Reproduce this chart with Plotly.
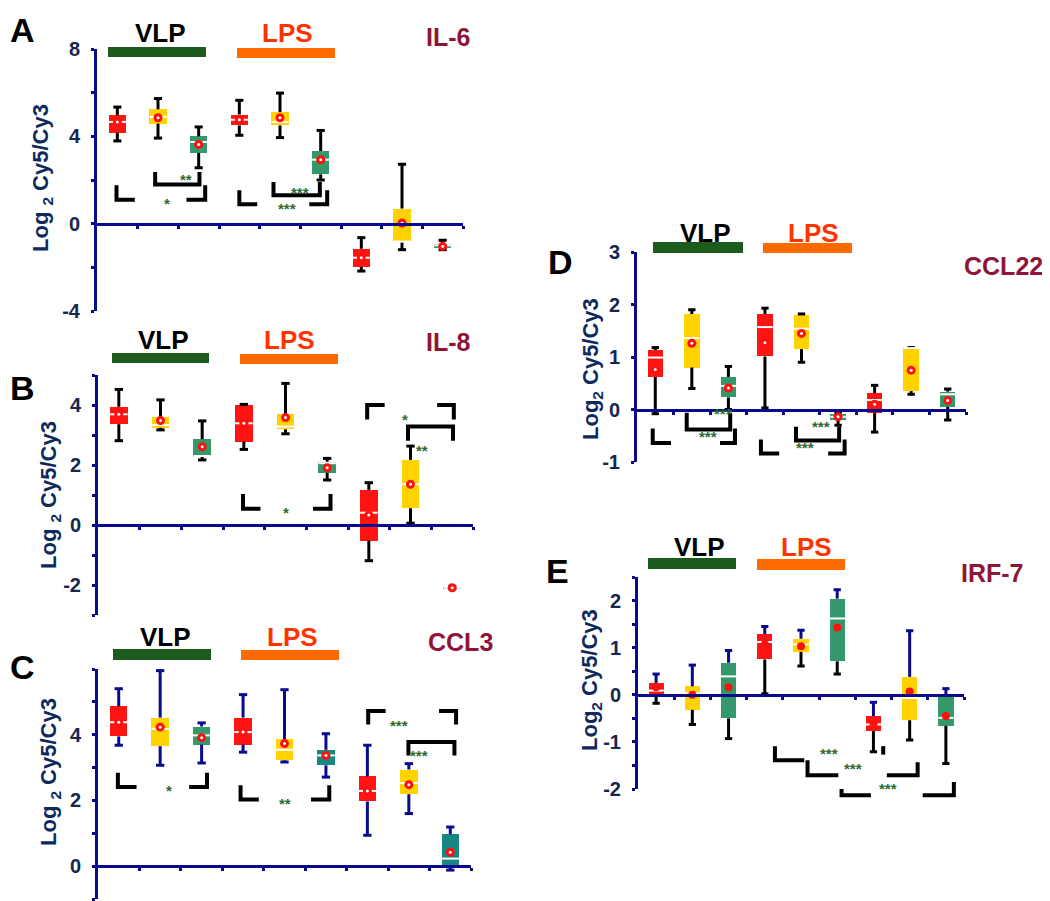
import plotly.graph_objects as go

W, H = 1050, 901
CATS = [0, 1, 2, 3, 4, 5, 6, 7, 8]

# ---- data: whisker low, Q1, median, Q3, whisker high, mean (log2 Cy5/Cy3) ----
A_LOW = [3.79, 3.92, 2.56, 4.05, 3.94, 2.00, -2.17, -1.19, -1.19]
A_Q1 = [4.17, 4.58, 3.24, 4.50, 4.50, 2.26, -1.98, -0.85, -1.10]
A_MED = [4.66, 4.89, 3.74, 4.76, 4.66, 2.93, -1.56, -0.82, -0.99]
A_Q3 = [4.96, 5.24, 4.00, 5.00, 5.11, 3.33, -1.15, 0.69, -0.92]
A_HIGH = [5.34, 5.73, 4.43, 5.65, 5.98, 4.27, -0.64, 2.72, -0.76]
A_MEAN = [4.66, 4.85, 3.63, 4.76, 4.85, 2.93, -1.56, 0.03, -1.04]

B_LOW = [2.81, 3.17, 2.17, 2.52, 3.04, 1.50, -1.19, 0.06, -2.12]
B_Q1 = [3.36, 3.24, 2.28, 2.78, 3.19, 1.74, -0.52, 0.56, -2.11]
B_MED = [3.69, 3.33, 2.30, 3.39, 3.28, 2.06, 0.41, 1.36, -2.09]
B_Q3 = [3.94, 3.59, 2.86, 4.00, 3.69, 2.11, 1.17, 2.17, -2.07]
B_HIGH = [4.52, 4.17, 3.47, 4.02, 4.72, 2.22, 1.41, 2.63, -2.06]
B_MEAN = [3.69, 3.48, 2.61, 3.39, 3.58, 1.91, 0.33, 1.36, -2.09]

C_LOW = [3.68, 3.07, 3.14, 3.47, 3.17, 2.71, 0.94, 1.60, -0.12]
C_Q1 = [3.95, 3.65, 3.70, 3.70, 3.22, 3.07, 1.97, 2.19, 0.00]
C_MED = [4.38, 4.18, 3.98, 4.08, 3.54, 3.37, 2.29, 2.53, 0.23]
C_Q3 = [4.86, 4.52, 4.25, 4.52, 3.86, 3.54, 2.73, 2.94, 0.97]
C_HIGH = [5.40, 5.95, 4.36, 5.22, 5.37, 4.03, 3.68, 3.12, 1.19]
C_MEAN = [4.38, 4.23, 3.91, 4.08, 3.73, 3.37, 2.29, 2.48, 0.42]

D_LOW = [-0.08, 0.40, 0.00, 0.03, 0.90, -0.30, -0.43, 0.29, -0.20]
D_Q1 = [0.62, 0.80, 0.23, 1.01, 1.15, -0.20, -0.06, 0.35, 0.05]
D_MED = [0.99, 1.36, 0.45, 1.57, 1.54, -0.14, 0.18, 1.17, 0.29]
D_Q3 = [1.13, 1.82, 0.62, 1.82, 1.80, -0.08, 0.31, 1.17, 0.34]
D_HIGH = [1.18, 1.90, 0.82, 1.93, 1.82, -0.06, 0.46, 1.18, 0.39]
D_MEAN = [0.76, 1.26, 0.41, 1.27, 1.45, -0.14, 0.10, 0.75, 0.17]

E_LOW = [-0.18, -0.63, -0.93, 0.02, 0.61, 0.44, -1.21, -0.96, -1.46]
E_Q1 = [0.01, -0.32, -0.50, 0.75, 0.91, 0.71, -0.77, -0.54, -0.66]
E_MED = [0.09, 0.03, 0.39, 1.12, 1.07, 1.62, -0.63, -0.07, -0.49]
E_Q3 = [0.25, 0.18, 0.68, 1.29, 1.19, 2.04, -0.45, 0.38, -0.04]
E_HIGH = [0.44, 0.63, 0.94, 1.45, 1.37, 2.23, -0.16, 1.36, 0.13]
E_MEAN = [0.16, 0.00, 0.16, 1.07, 1.03, 1.43, -0.63, 0.07, -0.45]

# significance brackets (x in category units, y in log2 units) and stars
A_BRACKETS = [
    [(-0.02, 1.76), (-0.02, 1.10), (0.43, 1.10)],
    [(1.70, 1.10), (2.16, 1.10), (2.16, 1.76)],
    [(0.93, 2.37), (0.93, 1.79), (2.02, 1.79), (2.02, 2.37)],
    [(3.00, 1.53), (3.00, 0.89), (3.44, 0.89)],
    [(4.72, 0.89), (5.16, 0.89), (5.16, 1.53)],
    [(3.84, 1.91), (3.84, 1.30), (4.98, 1.30), (4.98, 1.91)],
]
A_STARS = [(1.09, 1.10, '*'), (1.50, 2.21, '**'), (4.16, 0.89, '***'), (4.49, 1.60, '***')]

B_BRACKETS = [
    [(2.98, 1.03), (2.98, 0.54), (3.40, 0.54)],
    [(4.66, 0.54), (5.08, 0.54), (5.08, 1.03)],
    [(5.96, 3.52), (5.96, 4.00), (6.38, 4.00)],
    [(7.64, 4.00), (8.04, 4.00), (8.04, 3.52)],
    [(6.94, 2.81), (6.94, 3.28), (8.02, 3.28), (8.02, 2.81)],
]
B_STARS = [(4.02, 0.54, '*'), (7.00, 4.00, '*'), (7.48, 2.98, '**')]

C_BRACKETS = [
    [(-0.02, 2.84), (-0.02, 2.41), (0.43, 2.41)],
    [(1.70, 2.41), (2.13, 2.41), (2.13, 2.84)],
    [(2.94, 2.46), (2.94, 2.03), (3.38, 2.03)],
    [(4.64, 2.03), (5.08, 2.03), (5.08, 2.46)],
    [(6.02, 4.31), (6.02, 4.72), (6.44, 4.72)],
    [(7.73, 4.72), (8.14, 4.72), (8.14, 4.31)],
    [(6.99, 3.37), (6.99, 3.78), (8.10, 3.78), (8.10, 3.37)],
]
C_STARS = [(1.09, 2.41, '*'), (4.02, 2.03, '**'), (7.04, 4.72, '***'), (7.51, 3.50, '***')]

D_BRACKETS = [
    [(-0.07, -0.36), (-0.07, -0.64), (0.43, -0.64)],
    [(1.77, -0.64), (2.18, -0.64), (2.18, -0.36)],
    [(0.86, -0.06), (0.86, -0.38), (2.05, -0.38), (2.05, -0.06)],
    [(2.89, -0.57), (2.89, -0.84), (3.39, -0.84)],
    [(4.73, -0.84), (5.18, -0.84), (5.18, -0.57)],
    [(3.85, -0.33), (3.85, -0.59), (5.03, -0.59), (5.03, -0.33)],
]
D_STARS = [(1.14, -0.64, '***'), (1.55, -0.20, '***'), (4.09, -0.84, '***'), (4.52, -0.45, '***')]

E_BRACKETS = [
    [(3.28, -1.09), (3.28, -1.39), (4.09, -1.39)],
    [(6.27, -1.09), (6.27, -1.27)],
    [(4.18, -1.39), (4.18, -1.71), (5.03, -1.71)],
    [(6.37, -1.71), (7.22, -1.71), (7.22, -1.43)],
    [(5.12, -2.00), (5.12, -2.13), (5.93, -2.13)],
    [(7.36, -2.13), (8.22, -2.13), (8.22, -1.85)],
]
E_STARS = [(4.78, -1.39, '***'), (5.75, -1.71, '***'), (6.70, -2.13, '***')]

# y ticks (labelled and minor)
A_TICKS = [-4, 0, 4, 8]
A_MINOR = [-2, 2, 6]
B_TICKS = [-2, 0, 2, 4]
B_MINOR = [-3, -1, 1, 3, 5]
C_TICKS = [0, 2, 4]
C_MINOR = [-1, 1, 3, 5, 6]
D_TICKS = [-1, 0, 1, 2, 3]
D_MINOR = []
E_TICKS = [-2, -1, 0, 1, 2]
E_MINOR = [-1.5, -0.5, 0.5, 1.5, 2.5]

# ---- styling ----
FONT = 'Liberation Sans, Arial, sans-serif'
NAVY = '#0A0A8C'
TICK_COLOR = '#17264F'
TITLE_COLOR = '#0E2A5C'
RED, YEL, GRN, TEAL = '#FF1414', '#FFD200', '#33996B', '#178784'
COL_STD = [RED, YEL, GRN] * 3
COL_C = [RED, YEL, GRN, RED, YEL, TEAL, RED, YEL, TEAL]
BAR_GREEN = '#1D5A1D'
BAR_ORANGE = '#FF6A00'
LPS_TEXT = '#FF3300'
GENE_COLOR = '#8E1538'
STAR_COLOR = '#2E6B2E'
BOX_W = 0.42
CAP = 0.1
PAGE_PAD = 8  # the page body margin shifts the figure by this much

panels = [
    dict(letter='A', gene='IL-6', sub='Log <sub>2</sub> Cy5/Cy3',
         low=A_LOW, q1=A_Q1, med=A_MED, q3=A_Q3, high=A_HIGH, mean=A_MEAN,
         brackets=A_BRACKETS, stars=A_STARS, ticks=A_TICKS, minor=A_MINOR,
         colors=COL_STD, up='black', dn='black', ring=True,
         px=(97, 463), py=(49, 311), yr=(-4, 8),
         letter_xy=(22, 30), title_xy=(42, 178), vlp=(160, 33), vbar=(108, 206, 47, 57),
         lps=(287, 33), lbar=(237, 335, 48, 58), gene_xy=(448, 37)),
    dict(letter='B', gene='IL-8', sub='Log <sub>2</sub> Cy5/Cy3',
         low=B_LOW, q1=B_Q1, med=B_MED, q3=B_Q3, high=B_HIGH, mean=B_MEAN,
         brackets=B_BRACKETS, stars=B_STARS, ticks=B_TICKS, minor=B_MINOR,
         colors=COL_STD, up='black', dn='black', ring=True,
         px=(98, 473), py=(375, 615), yr=(-3, 5),
         letter_xy=(22, 388), title_xy=(50, 495), vlp=(163, 340), vbar=(112, 209, 353, 363),
         lps=(289, 340), lbar=(240, 338, 354, 364), gene_xy=(448, 342)),
    dict(letter='C', gene='CCL3', sub='Log <sub>2</sub> Cy5/Cy3',
         low=C_LOW, q1=C_Q1, med=C_MED, q3=C_Q3, high=C_HIGH, mean=C_MEAN,
         brackets=C_BRACKETS, stars=C_STARS, ticks=C_TICKS, minor=C_MINOR,
         colors=COL_C, up=NAVY, dn=NAVY, ring=True,
         px=(98, 471), py=(669, 899), yr=(-1, 6),
         letter_xy=(22, 667), title_xy=(50, 772), vlp=(165, 637), vbar=(113, 211, 649, 660),
         lps=(292, 637), lbar=(241, 339, 650, 660), gene_xy=(460, 642)),
    dict(letter='D', gene='CCL22', sub='Log<sub>2</sub> Cy5/Cy3',
         low=D_LOW, q1=D_Q1, med=D_MED, q3=D_Q3, high=D_HIGH, mean=D_MEAN,
         brackets=D_BRACKETS, stars=D_STARS, ticks=D_TICKS, minor=D_MINOR,
         colors=COL_STD, up='black', dn='black', ring=True,
         px=(637, 966), py=(252, 462), yr=(-1, 3),
         letter_xy=(560, 262), title_xy=(592, 369), vlp=(705, 233), vbar=(653, 743, 242, 253),
         lps=(813, 233), lbar=(763, 852, 243, 253), gene_xy=(1003, 266)),
    dict(letter='E', gene='IRF-7', sub='Log<sub>2</sub> Cy5/Cy3',
         low=E_LOW, q1=E_Q1, med=E_MED, q3=E_Q3, high=E_HIGH, mean=E_MEAN,
         brackets=E_BRACKETS, stars=E_STARS, ticks=E_TICKS, minor=E_MINOR,
         colors=COL_STD, up=NAVY, dn='black', ring=False,
         px=(638, 964), py=(577, 789), yr=(-2, 2.5),
         letter_xy=(557, 571), title_xy=(591, 680), vlp=(700, 547), vbar=(648, 736, 558, 569),
         lps=(806, 547), lbar=(757, 845, 559, 570), gene_xy=(992, 573)),
]


def paper_x(x):
    return (x - PAGE_PAD) / W


def paper_y(y):
    return 1 - (y - PAGE_PAD) / H


def whisker(xs, starts, ends):
    X, Y = [], []
    for x, a, b in zip(xs, starts, ends):
        X += [x, x, None, x - CAP, x + CAP, None]
        Y += [a, b, None, b, b, None]
    return X, Y


def label(fig, xy, text, size, color, angle=0):
    fig.add_annotation(x=paper_x(xy[0]), y=paper_y(xy[1]), xref='paper', yref='paper',
                       text=text, showarrow=False, xanchor='center', yanchor='middle',
                       textangle=angle,
                       font=dict(family=FONT, size=size, color=color, weight='bold'))


fig = go.Figure()

for i, p in enumerate(panels, start=1):
    sfx = '' if i == 1 else str(i)
    xa, ya = 'x' + sfx, 'y' + sfx
    lo, hi = p['yr']
    top, bot = p['py']
    zero_px = top + hi / (hi - lo) * (bot - top)

    fig.update_layout({
        'xaxis' + sfx: dict(
            domain=[paper_x(p['px'][0]), paper_x(p['px'][1])], range=[-0.5, 8.5],
            anchor='free', position=paper_y(zero_px), showgrid=False, zeroline=False,
            automargin=False,
            showline=True, linecolor=NAVY, linewidth=3, ticks='outside', ticklen=3,
            tickwidth=3, tickcolor=NAVY, tickvals=[k + 0.5 for k in CATS],
            showticklabels=False, fixedrange=True),
        'yaxis' + sfx: dict(
            domain=[paper_y(bot), paper_y(top)], range=[lo, hi], anchor=xa,
            showgrid=False, zeroline=False, automargin=False,
            showline=True, linecolor=NAVY, linewidth=3,
            ticks='outside', ticklen=3, tickwidth=3, tickcolor=NAVY,
            tickvals=p['ticks'], ticktext=[f'{t:g}' for t in p['ticks']], ticklabelstandoff=7,
            tickfont=dict(family=FONT, size=20, color=TICK_COLOR, weight='bold'),
            minor=dict(tickvals=p['minor'], ticks='outside', ticklen=3, tickwidth=3,
                       tickcolor=NAVY, showgrid=False),
            fixedrange=True),
    })

    # whiskers
    ux, uy = whisker(CATS, p['q3'], p['high'])
    lx, ly = whisker(CATS, p['q1'], p['low'])
    fig.add_trace(go.Scatter(x=ux, y=uy, mode='lines', line=dict(color=p['up'], width=3),
                             xaxis=xa, yaxis=ya, showlegend=False, hoverinfo='skip'))
    fig.add_trace(go.Scatter(x=lx, y=ly, mode='lines', line=dict(color=p['dn'], width=3),
                             xaxis=xa, yaxis=ya, showlegend=False, hoverinfo='skip'))

    # boxes
    fig.add_trace(go.Bar(
        x=CATS, y=[b - a for a, b in zip(p['q1'], p['q3'])], base=p['q1'], width=BOX_W,
        marker=dict(color=p['colors'], line=dict(width=0)),
        xaxis=xa, yaxis=ya, showlegend=False, hoverinfo='skip'))

    # medians
    mx, my = [], []
    for x, m in zip(CATS, p['med']):
        mx += [x - BOX_W / 2, x + BOX_W / 2, None]
        my += [m, m, None]
    fig.add_trace(go.Scatter(x=mx, y=my, mode='lines', line=dict(color='white', width=2),
                             xaxis=xa, yaxis=ya, showlegend=False, hoverinfo='skip'))

    # means
    fig.add_trace(go.Scatter(x=CATS, y=p['mean'], mode='markers',
                             marker=dict(color='#FF1010', size=9 if p['ring'] else 8, symbol='circle'),
                             xaxis=xa, yaxis=ya, showlegend=False, hoverinfo='skip'))
    if p['ring']:
        fig.add_trace(go.Scatter(x=CATS, y=p['mean'], mode='markers',
                                 marker=dict(color='white', size=3),
                                 xaxis=xa, yaxis=ya, showlegend=False, hoverinfo='skip'))

    # significance brackets
    def dom(pt):
        return (pt[0] + 0.5) / 9, (pt[1] - lo) / (hi - lo)

    for br in p['brackets']:
        pts = [dom(q) for q in br]
        path = 'M ' + ' L '.join(f'{a:.4f},{b:.4f}' for a, b in pts)
        fig.add_shape(type='path', path=path, xref=xa + ' domain', yref=ya + ' domain',
                      line=dict(color='black', width=4))
    for sx, sy, s in p['stars']:
        dx, dy = dom((sx, sy))
        fig.add_annotation(x=dx, y=dy, xref=xa + ' domain', yref=ya + ' domain', text=s,
                           showarrow=False, yshift=-4,
                           font=dict(family=FONT, size=15, color=STAR_COLOR, weight='bold'))

    # headers
    label(fig, p['vlp'], 'VLP', 26, 'black')
    label(fig, p['lps'], 'LPS', 26, LPS_TEXT)
    for (x0, x1, y0, y1), col in [(p['vbar'], BAR_GREEN), (p['lbar'], BAR_ORANGE)]:
        fig.add_shape(type='rect', xref='paper', yref='paper', x0=paper_x(x0), x1=paper_x(x1),
                      y0=paper_y(y1), y1=paper_y(y0), fillcolor=col, line=dict(width=0))
    label(fig, p['gene_xy'], p['gene'], 25, GENE_COLOR)
    label(fig, p['letter_xy'], p['letter'], 34, 'black')
    label(fig, p['title_xy'], p['sub'], 22, TITLE_COLOR, angle=-90)

fig.update_layout(
    template='none',
    width=W, height=H, margin=dict(l=0, r=0, t=0, b=0, autoexpand=False),
    paper_bgcolor='white', plot_bgcolor='white', bargap=0,
    font=dict(family=FONT),
)

fig.write_html("out.html")
